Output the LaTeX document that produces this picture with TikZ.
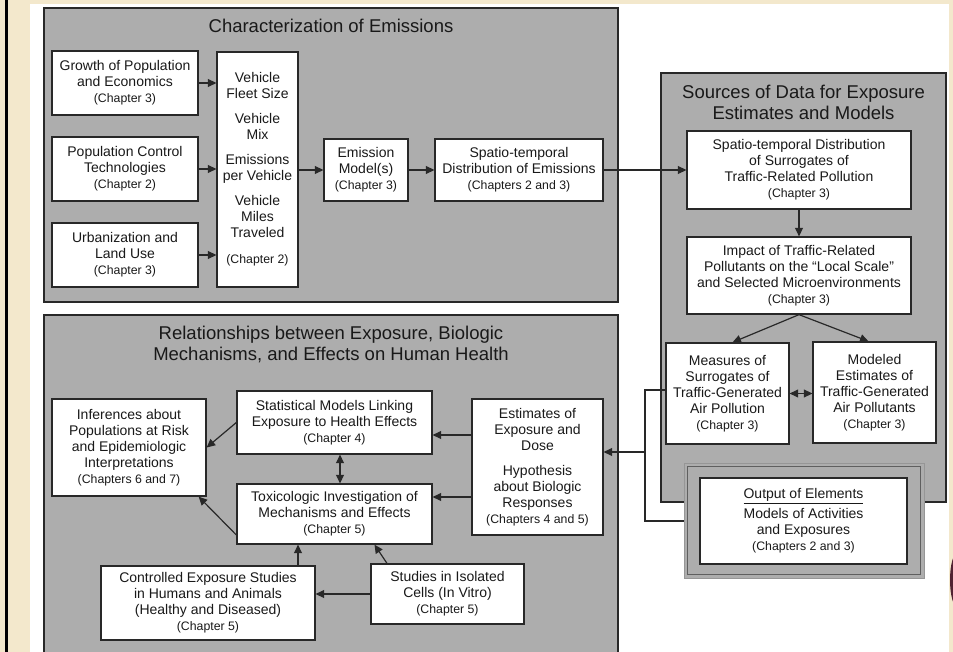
\documentclass[tikz,border=0pt]{standalone}
\usepackage{fontspec}
\setmainfont{Liberation Sans}
\usetikzlibrary{arrows.meta}
\definecolor{beige}{RGB}{243,232,204}
\definecolor{panelgray}{RGB}{173,173,173}
\definecolor{edge}{RGB}{40,40,40}
\definecolor{ink}{RGB}{25,25,25}
\definecolor{framelt}{RGB}{150,150,150}
\definecolor{framedk}{RGB}{95,95,95}
\definecolor{maroonish}{RGB}{80,35,50}
\newcommand\chap[1]{{\fontsize{12.3}{16}\selectfont #1}}
\begin{document}
\begin{tikzpicture}[x=1pt,y=-1pt,
 panel/.style={fill=panelgray,draw=edge,line width=1.2pt},
 box/.style={fill=white,draw=edge,line width=1.3pt,inner sep=0pt,align=center,text=ink,font=\fontsize{14}{16}\selectfont},
 ttl/.style={align=center,text=ink,font=\fontsize{18.5}{21}\selectfont,inner sep=0pt},
 arr/.style={draw=edge,line width=1.2pt,-{Triangle[length=8.5pt,width=8pt]}},
 darr/.style={draw=edge,line width=1.2pt,{Triangle[length=8.5pt,width=8pt]}-{Triangle[length=8.5pt,width=8pt]}},
 conn/.style={draw=edge,line width=1.2pt},
]
\clip (0,0) rectangle (953,652);
% background frame
\fill[beige] (0,0) rectangle (953,652);
\fill[white] (30,4) rectangle (949,660);
\fill[black] (5,0) rectangle (7.5,660);
\fill[maroonish] (958,580) ellipse [x radius=8pt, y radius=28pt];

% panels
\draw[panel] (44,8) rectangle (618,302);
\draw[panel] (661,73) rectangle (946,502);
\draw[panel] (44,315) rectangle (618,670);

% titles
\node[ttl] (t1) at (331,26) {Characterization of Emissions};
\node[ttl] (t2) at (803.5,102) {Sources of Data for Exposure\\Estimates and Models};
\node[ttl] (t3) at (331,344) {Relationships between Exposure, Biologic\\Mechanisms, and Effects on Human Health};

% panel 1 boxes
\node[box,minimum width=146pt,minimum height=64pt] (g1) at (125,83) {Growth of Population\\and Economics\\\chap{(Chapter 3)}};
\node[box,minimum width=146pt,minimum height=64pt] (g2) at (125,169) {Population Control\\Technologies\\\chap{(Chapter 2)}};
\node[box,minimum width=146pt,minimum height=64pt] (g3) at (125,255) {Urbanization and\\Land Use\\\chap{(Chapter 3)}};
\node[box,minimum width=81pt,minimum height=235pt] (veh) at (257.5,169.5) {Vehicle\\Fleet Size\\[9pt]Vehicle\\Mix\\[9pt]Emissions\\per Vehicle\\[9pt]Vehicle\\Miles\\Traveled\\[10pt]\chap{(Chapter 2)}};
\node[box,minimum width=84pt,minimum height=62pt] (em) at (366,170) {Emission\\Model(s)\\\chap{(Chapter 3)}};
\node[box,minimum width=168pt,minimum height=62pt] (sp) at (519,170) {Spatio-temporal\\Distribution of Emissions\\\chap{(Chapters 2 and 3)}};

% panel 2 boxes
\node[box,minimum width=224pt,minimum height=78pt] (sd) at (799,170) {Spatio-temporal Distribution\\of Surrogates of\\Traffic-Related Pollution\\\chap{(Chapter 3)}};
\node[box,minimum width=224pt,minimum height=77pt] (imp) at (799,275.5) {Impact of Traffic-Related\\Pollutants on the ``Local Scale''\\and Selected Microenvironments\\\chap{(Chapter 3)}};
\node[box,minimum width=123pt,minimum height=101pt] (meas) at (727.5,393.5) {Measures of\\Surrogates of\\Traffic-Generated\\Air Pollution\\\chap{(Chapter 3)}};
\node[box,minimum width=123pt,minimum height=101pt] (mod) at (874.5,392.5) {Modeled\\Estimates of\\Traffic-Generated\\Air Pollutants\\\chap{(Chapter 3)}};

% output frame
\node[fill=panelgray,draw=framelt,line width=1pt,minimum width=240pt,minimum height=115pt,inner sep=0pt] (outf) at (804,520.5) {};
\draw[framedk,line width=1pt] (687.5,466.5) rectangle (920.5,574.5);
\node[box,minimum width=207pt,minimum height=86pt] (out) at (803.5,521) {\underline{Output of Elements}\\[4pt]Models of Activities\\and Exposures\\\chap{(Chapters 2 and 3)}};

% panel 3 boxes
\node[box,minimum width=154pt,minimum height=97pt] (inf) at (129,447.5) {Inferences about\\Populations at Risk\\and Epidemiologic\\Interpretations\\\chap{(Chapters 6 and 7)}};
\node[box,minimum width=195pt,minimum height=63pt] (stat) at (334.5,422.5) {Statistical Models Linking\\Exposure to Health Effects\\\chap{(Chapter 4)}};
\node[box,minimum width=195pt,minimum height=60pt] (tox) at (334.5,514) {Toxicologic Investigation of\\Mechanisms and Effects\\\chap{(Chapter 5)}};
\node[box,minimum width=131pt,minimum height=136pt] (est) at (537.5,467) {Estimates of\\Exposure and\\Dose\\[9pt]Hypothesis\\about Biologic\\Responses\\\chap{(Chapters 4 and 5)}};
\node[box,minimum width=214pt,minimum height=74pt] (ctrl) at (208,603) {Controlled Exposure Studies\\in Humans and Animals\\(Healthy and Diseased)\\\chap{(Chapter 5)}};
\node[box,minimum width=153pt,minimum height=60pt] (iso) at (447.5,594) {Studies in Isolated\\Cells (In Vitro)\\\chap{(Chapter 5)}};

% helper coordinates
\coordinate (j1) at (645,390);
\coordinate (j2) at (645,521);
\coordinate (j3) at (645,452);
\coordinate (ya) at (0,435);
\coordinate (yb) at (0,497);
\coordinate (xc) at (298,0);

% connectors panel 1
\draw[arr] (g1.east) -- (veh.west |- g1.east);
\draw[arr] (g2.east) -- (veh.west |- g2.east);
\draw[arr] (g3.east) -- (veh.west |- g3.east);
\draw[arr] (veh.east |- em.west) -- (em.west);
\draw[arr] (em.east) -- (sp.west);
\draw[arr] (sp.east) -- (sd.west);

% connectors panel 2
\draw[arr] (sd.south) -- (imp.north);
\draw[arr] (imp.south) -- ([xshift=5pt]meas.north);
\draw[arr] (imp.south) -- ([xshift=-6pt]mod.north);
\draw[darr] (meas.east) -- (mod.west |- meas.east);
\draw[conn] (meas.west |- j1) -- (j1) -- (j2) -- (outf.west |- j2);
\draw[arr] (j3) -- (est.east |- j3);

% connectors panel 3
\draw[arr] (est.west |- ya) -- (stat.east |- ya);
\draw[arr] (est.west |- yb) -- (tox.east |- yb);
\draw[arr] (stat.west) -- (inf.east);
\draw[arr] ([yshift=-21pt]tox.west) -- ([xshift=-8pt]inf.south east);
\draw[darr] ([xshift=5.5pt]stat.south) -- ([xshift=5.5pt]tox.north);
\draw[arr] (ctrl.north -| xc) -- (tox.south -| xc);
\draw[arr] ([xshift=-60.5pt]iso.north) -- ([xshift=40pt]tox.south);
\draw[arr] (iso.west) -- (ctrl.east |- iso.west);
\end{tikzpicture}
\end{document}
